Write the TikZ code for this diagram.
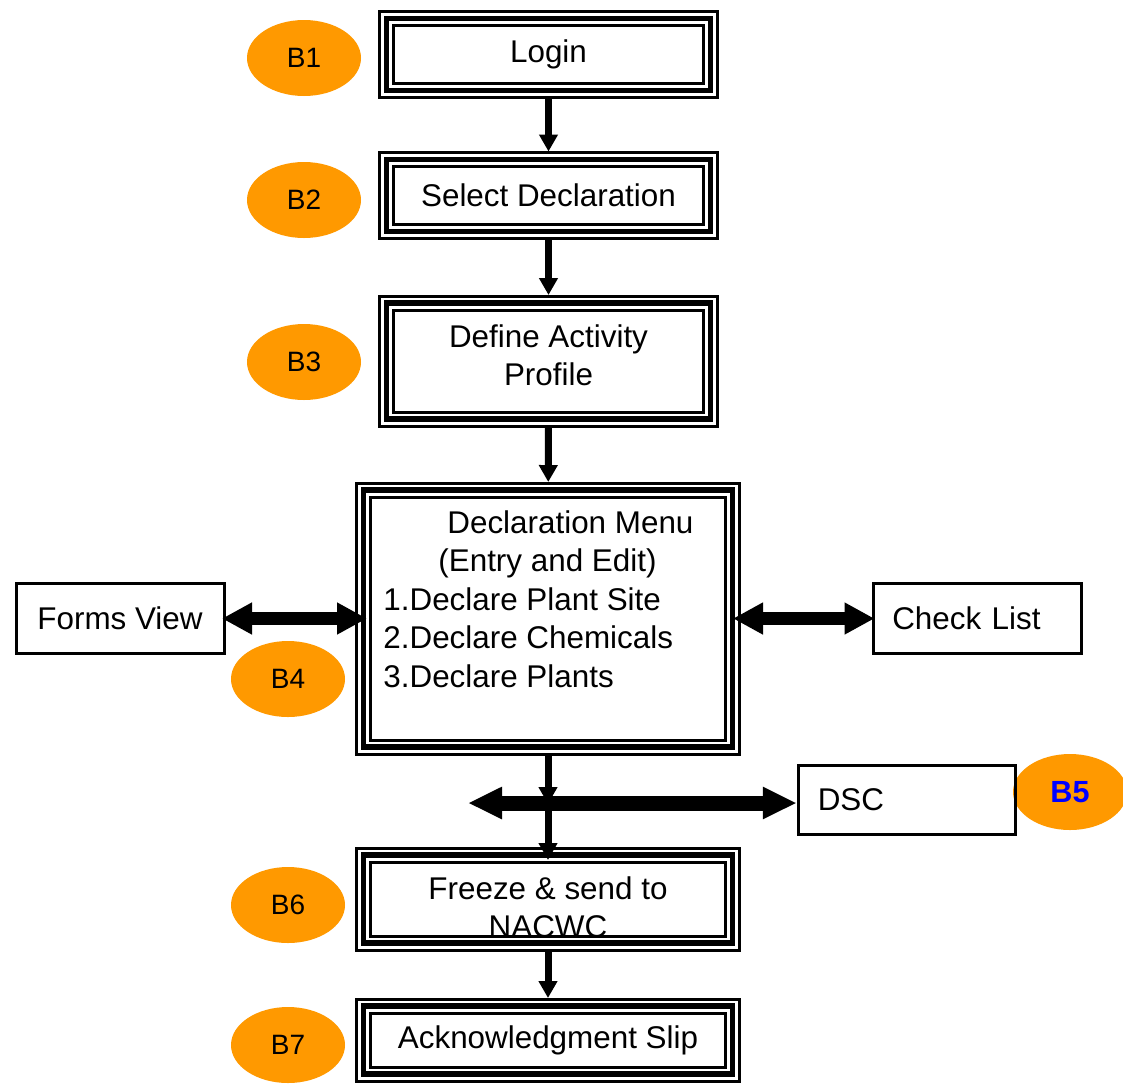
\documentclass[tikz,border=0pt]{standalone}
\usepackage{fontspec}
\setmainfont{Liberation Sans}
\usetikzlibrary{arrows.meta,shapes.geometric}
\definecolor{borange}{RGB}{255,153,0}

\begin{document}
\begin{tikzpicture}[x=0.5pt,y=-0.5pt]
\tikzset{every node/.style={font=\fontsize{15.7}{19.25}\selectfont}}
\tikzset{tribox/.style={draw,line width=2.8pt,outer sep=4pt,inner sep=0pt,align=center,
  preaction={draw,line width=1.5pt,double=white,double distance=5.5pt}}}
\tikzset{plainbox/.style={draw,line width=1.5pt,minimum width=104pt,minimum height=35pt,inner sep=9.5pt}}
\tikzset{bmark/.style={ellipse,fill=borange,minimum width=57pt,minimum height=38pt,inner sep=0pt,font=\fontsize{14}{16}\selectfont}}
\tikzset{vline/.style={-{Triangle[length=8.5pt,width=9pt]},line width=3.5pt}}
\tikzset{hline/.style={{Triangle[length=15pt,width=15pt]}-{Triangle[length=15pt,width=15pt]},line width=6.5pt}}

\useasboundingbox (0,0) rectangle (1123,1083);

% step markers
\node[bmark] (b1) at (304,58) {B1};
\node[bmark] (b2) at (304,200) {B2};
\node[bmark] (b3) at (304,362) {B3};
\node[bmark] (b4) at (288,679) {B4};
\node[bmark,text=blue,font=\fontsize{15.3}{17}\selectfont\bfseries] (b5) at (1070,792) {B5};
\node[bmark] (b6) at (288,905) {B6};
\node[bmark] (b7) at (288,1045) {B7};

% main flow
\node[tribox,minimum width=162pt,minimum height=36pt] (login) at (548.5,54.5) {Login};
\node[tribox,minimum width=162pt,minimum height=36pt] (select) at (548.5,195.5) {Select Declaration};
\node[tribox,minimum width=162pt,minimum height=58pt] (define) at (548.5,361)
  {Define Activity\\\raisebox{0pt}[\height][6pt]{Profile}};
\node[tribox,minimum width=184.5pt,minimum height=128.5pt] (menu) at (548,618.5) {};
\node[anchor=north west,inner sep=0pt,align=left] (menutxt) at (383,510)
  {\hspace*{32pt}Declaration Menu\\
   \hspace*{27.5pt}(Entry and Edit)\\
   1.Declare Plant Site\\
   2.Declare Chemicals\\
   3.Declare Plants};
\node[tribox,minimum width=184.5pt,minimum height=44pt] (freeze) at (548,899)
  {\raisebox{0pt}[19.5pt]{Freeze \& send to}\\NACWC};
\node[tribox,minimum width=184.5pt,minimum height=34pt] (ack) at (548,1040) {Acknowledgment Slip};

% side boxes
\node[plainbox] (forms) at (120,618.5) {Forms View};
\node[plainbox,text width=84.75pt,align=left] (check) at (977,618.5) {Check List};
\node[plainbox,minimum width=108.75pt,minimum height=34.75pt,text width=89.25pt,align=left] (dsc) at (907,800) {DSC};

\coordinate (junc) at (548,804);
\coordinate (dscl) at (468,803);

\draw[vline] (login) -- (select);
\draw[vline] (select) -- (define);
\draw[vline] (define) -- (menu);
\draw[vline] (menu.south) -- (junc);
\draw[hline,line width=7.5pt,{Triangle[length=17pt,width=15pt]}-{Triangle[length=17pt,width=15pt]}] (dscl) -- (dscl -| dsc.west);
\draw[vline,shorten >=-6.5pt] (junc) -- (freeze.north);
\draw[vline] (freeze) -- (ack);
\draw[hline,shorten <=-1.75pt,shorten >=-5.75pt] (forms.east) -- (menu.west);
\draw[hline,shorten <=-3.75pt,shorten >=-1.5pt] (menu.east) -- (check.west);

\end{tikzpicture}
\end{document}
